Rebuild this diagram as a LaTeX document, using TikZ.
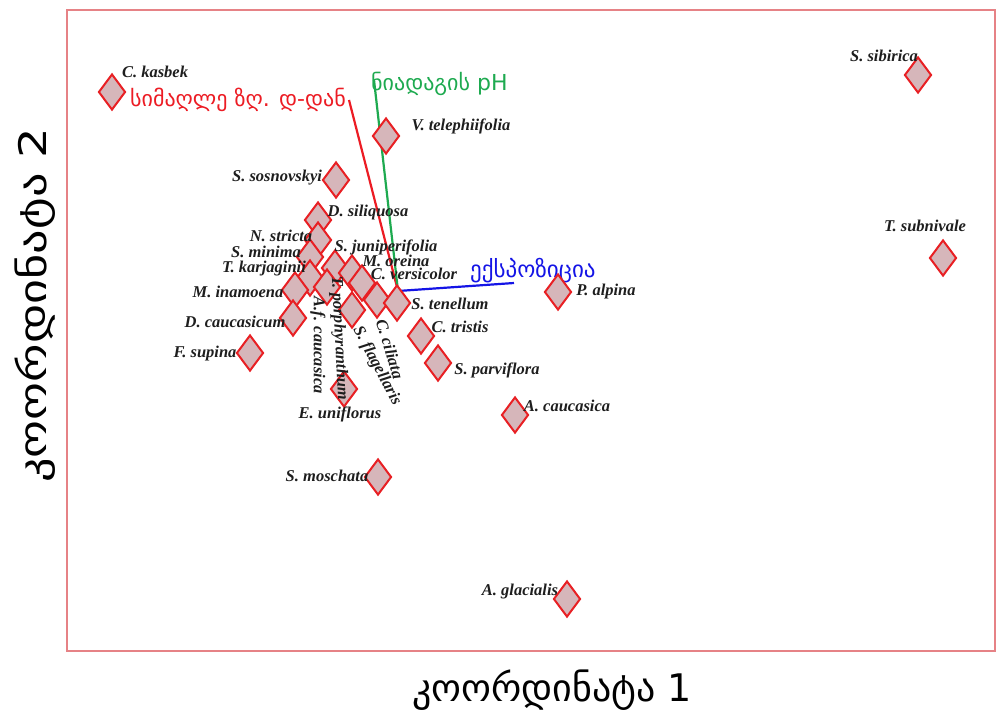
\documentclass[tikz,border=0pt]{standalone}
\usepackage{fontspec}
\setmainfont{Liberation Serif}
\newfontfamily\geo{DejaVu Sans}
\usetikzlibrary{shapes.geometric}
\definecolor{dfill}{RGB}{214,182,186}
\definecolor{dline}{RGB}{232,32,36}
\definecolor{framec}{RGB}{230,130,134}
\definecolor{vred}{RGB}{236,28,36}
\definecolor{vgreen}{RGB}{30,170,80}
\definecolor{vblue}{RGB}{20,20,230}
\definecolor{lab}{RGB}{30,30,30}
\tikzset{
  sp/.style={diamond, draw=dline, fill=dfill, line width=2pt, minimum width=27pt, minimum height=36pt, inner sep=0pt},
  lbl/.style={font=\fontsize{16.5}{16.5}\selectfont\bfseries\itshape, text=lab, inner sep=0pt},
  vec/.style={line width=2.2pt},
  vlab/.style={font=\geo\fontsize{22}{22}\selectfont, inner sep=0pt},
}
\begin{document}
\begin{tikzpicture}[x=1pt,y=-1pt]
\useasboundingbox (0,0) rectangle (998,718);
\draw[framec, line width=1.2pt] (67,10) rectangle (995,651);
% axis titles
\node[font=\geo\fontsize{38}{38}\selectfont, inner sep=0pt] (xt) at (552,690) {კოორდინატა 1};
\node[font=\geo\fontsize{38}{38}\selectfont, inner sep=0pt, rotate=90] (yt) at (35,305) {\scalebox{1.27}[1]{კოორდინატა 2}};
% vectors
\coordinate (o) at (398,291);
\coordinate (ered) at (349,100);
\coordinate (egreen) at (374,80);
\coordinate (eblue) at (514,283);
\draw[vec, vred] (o) -- (ered);
\draw[vec, vgreen] (o) -- (egreen);
\draw[vec, vblue] (o) -- (eblue);
\node[vlab, text=vred, anchor=east] (tred) at (346,100) {სიმაღლე ზღ. დ-დან};
\node[vlab, text=vgreen, anchor=west] (tgreen) at (371,84) {ნიადაგის pH};
\node[vlab, text=vblue, anchor=west] (tblue) at (470,271) {\fontsize{23}{23}\selectfont ექსპოზიცია};
% diamonds
\node[sp] (kas) at (112,92) {};
\node[sp] (sib) at (918,75) {};
\node[sp] (sub) at (943,258) {};
\node[sp] (tel) at (386,136) {};
\node[sp] (sos) at (336,180) {};
\node[sp] (sil) at (318,220) {};
\node[sp] (str) at (318,240) {};
\node[sp] (min) at (310,257) {};
\node[sp] (kar) at (310,278) {};
\node[sp] (ina) at (295,290) {};
\node[sp] (cau) at (293,318) {};
\node[sp] (sup) at (250,353) {};
\node[sp] (jun) at (335,268) {};
\node[sp] (afc) at (327,287) {};
\node[sp] (por) at (352,273) {};
\node[sp] (ore) at (362,283) {};
\node[sp] (fla) at (352,310) {};
\node[sp] (cil) at (377,300) {};
\node[sp] (ten) at (397,303) {};
\node[sp] (tri) at (421,336) {};
\node[sp] (par) at (438,363) {};
\node[sp] (aca) at (515,415) {};
\node[sp] (alp) at (558,292) {};
\node[sp] (uni) at (344,389) {};
\node[sp] (mos) at (378,477) {};
\node[sp] (gla) at (567,599) {};
% labels
\node[lbl] (lkas) at (155,72) {C. kasbek};
\node[lbl] (lsib) at (884,56) {S. sibirica};
\node[lbl] (lsub) at (925,226) {T. subnivale};
\node[lbl] (ltel) at (461,126) {V. telephiifolia};
\node[lbl] (lsos) at (277,178) {S. sosnovskyi};
\node[lbl] (lsil) at (368,213) {D. siliquosa};
\node[lbl] (lstr) at (281,236) {N. stricta};
\node[lbl] (lmin) at (266,252) {S. minima};
\node[lbl] (lkar) at (264,269) {T. karjaginii};
\node[lbl] (lina) at (238,292) {M. inamoena};
\node[lbl] (lcau) at (235,322) {D. caucasicum};
\node[lbl] (lsup) at (205,354) {F. supina};
\node[lbl] (ljun) at (386,247) {S. juniperifolia};
\node[lbl] (lore) at (396,261) {M. oreina};
\node[lbl] (lver) at (414,274) {C. versicolor};
\node[lbl] (lten) at (450,304) {S. tenellum};
\node[lbl] (ltri) at (460,327) {C. tristis};
\node[lbl] (lpar) at (497,370) {S. parviflora};
\node[lbl] (laca) at (567,406) {A. caucasica};
\node[lbl] (lalp) at (606,292) {P. alpina};
\node[lbl] (luni) at (340,414) {E. uniflorus};
\node[lbl] (lmos) at (327,476) {S. moschata};
\node[lbl] (lgla) at (520,592) {A. glacialis};
\node[lbl, rotate=-87] (lpor) at (339,338) {T. porphyranthum};
\node[lbl, rotate=-90] (lafc) at (318,345) {A.f. caucasica};
\node[lbl, rotate=-62] (lfla) at (377,366) {S. flagellaris};
\node[lbl, rotate=-73] (lcil) at (390,349) {C. ciliata};
\end{tikzpicture}
\end{document}
